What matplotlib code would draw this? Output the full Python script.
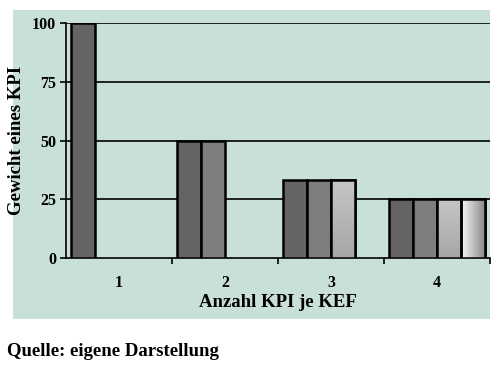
import numpy as np
import matplotlib.pyplot as plt
from matplotlib.patches import Rectangle

# data: weight of one KPI, depending on number of KPI per KEF
categories = [1, 2, 3, 4]
series_1 = [100, 50, 33.33, 25]
series_2 = [np.nan, 50, 33.33, 25]
series_3 = [np.nan, np.nan, 33.33, 25]
series_4 = [np.nan, np.nan, np.nan, 25]
y_ticks = [0, 25, 50, 75, 100]

plt.rcParams['font.family'] = ['Liberation Serif', 'DejaVu Serif']
plt.rcParams['font.weight'] = 'bold'

bg = '#c9e0d8'
fig = plt.figure(figsize=(5, 3.73), dpi=100, facecolor='white')

# light green chart panel behind the plot
fig.patches.append(Rectangle((0.026, 0.145), 0.954, 0.828, transform=fig.transFigure,
                             facecolor=bg, edgecolor='none', zorder=-5))

ax = fig.add_axes([0.132, 0.3083, 0.848, 0.63])
ax.set_facecolor('none')

width = 0.226
gap = 0.047
all_series = [series_1, series_2, series_3, series_4]
colors = ['#646464', '#7e7e7e', '#b4b4b4', '#d0d0d0']

# gradient fills for the lighter series
grad_v = np.linspace(0, 1, 64).reshape(-1, 1)
grad_h = np.linspace(0, 1, 64).reshape(1, -1)
cmap_3 = plt.matplotlib.colors.LinearSegmentedColormap.from_list('s3', ['#a6a6a6', '#c6c6c6'])
cmap_4 = plt.matplotlib.colors.LinearSegmentedColormap.from_list('s4', ['#f8f8f8', '#8a8a8a'])

for i, vals in enumerate(all_series):
    lefts = [c - 0.5 + gap + i * width for c in categories]
    bars = ax.bar(lefts, vals, width=width, align='edge', color=colors[i],
                  edgecolor='black', linewidth=1.8, zorder=3)
    for b in bars:
        h = b.get_height()
        if np.isnan(h) or i < 2:
            continue
        x0 = b.get_x()
        if i == 2:
            im = ax.imshow(grad_v, cmap=cmap_3, aspect='auto', origin='lower',
                           extent=[x0, x0 + width, 0, h], zorder=3.5)
        else:
            im = ax.imshow(grad_h, cmap=cmap_4, aspect='auto',
                           extent=[x0, x0 + width, 0, h], zorder=3.5)
        im.set_clip_path(b)
        ax.add_patch(Rectangle((x0, 0), width, h, facecolor='none',
                               edgecolor='black', linewidth=1.8, zorder=4))

ax.set_xlim(0.5, 4.5)
ax.set_ylim(0, 100)
ax.set_yticks(y_ticks)
ax.set_yticklabels([str(t) for t in y_ticks], fontsize=11.5, fontweight='bold')
ax.set_xticks([1.5, 2.5, 3.5, 4.5], minor=False)
ax.set_xticklabels([])
ax.set_xticks(categories, minor=True)
ax.set_xticklabels([str(c) for c in categories], minor=True, fontsize=11.5, fontweight='bold')
ax.tick_params(axis='x', which='minor', length=0, pad=12.5)
ax.tick_params(axis='x', which='major', length=4, width=1.2, direction='out')
ax.tick_params(axis='y', length=4, width=1.2, direction='out', pad=3)

for y in y_ticks[1:]:
    ax.axhline(y, color='black', linewidth=1.2, zorder=1)

for s in ['top', 'right']:
    ax.spines[s].set_visible(False)
ax.spines['left'].set_linewidth(1.2)
ax.spines['bottom'].set_linewidth(1.2)

ax.set_xlabel('Anzahl KPI je KEF', fontsize=13.5, fontweight='bold', labelpad=2)
ax.set_ylabel('Gewicht eines KPI', fontsize=13.5, fontweight='bold', labelpad=5)

fig.text(0.014, 0.058, 'Quelle: eigene Darstellung', fontsize=13.5, fontweight='bold',
         va='center', ha='left')

fig.savefig('out.png', dpi=100)
